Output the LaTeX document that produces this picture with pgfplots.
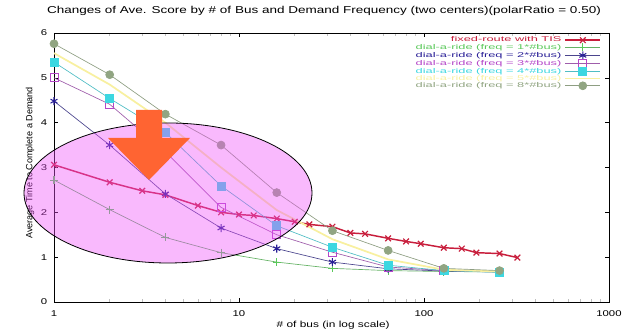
\documentclass[border=0pt]{standalone}
\usepackage{pgfplots}
\pgfplotsset{compat=1.18}
\usepackage{fontspec}
\setmainfont{Liberation Sans}
\newfontfamily\widef[FakeStretch=1.35]{Liberation Sans}
\newfontfamily\titlef[FakeStretch=1.35]{Liberation Sans}
\newfontfamily\legf[FakeStretch=1.85]{Liberation Sans}
\definecolor{cred}{RGB}{200,30,60}
\definecolor{cgreen}{RGB}{90,200,90}
\definecolor{cnavy}{RGB}{40,30,150}
\definecolor{cpurple}{RGB}{180,70,200}
\definecolor{ccyan}{RGB}{60,215,225}
\definecolor{cyellow}{RGB}{248,240,160}
\definecolor{cgray}{RGB}{145,165,130}
\definecolor{carrow}{RGB}{255,100,50}
\definecolor{cpink}{RGB}{240,80,250}
\begin{document}
\begin{tikzpicture}
\begin{axis}[
  name=ax,
  scale only axis,
  width=416.25pt, height=201.75pt,
  xmode=log, log basis x=10,
  xmin=1, xmax=1000, ymin=0, ymax=6,
  xtick={1,10,100,1000}, xticklabels={1,10,100,1000},
  minor xtick={2,3,4,5,6,7,8,9,20,30,40,50,60,70,80,90,200,300,400,500,600,700,800,900},
  ytick={0,1,2,3,4,5,6},
  /pgf/number format/assume math mode=true,
  axis line style={black, line width=0.6pt},
  major tick length=3pt, minor tick length=2pt,
  tick style={black, line width=0.4pt},
  minor tick style={gray!50, line width=0.4pt},
  ticklabel style={font=\widef\fontsize{6.3}{7}\selectfont},
  yticklabel style={inner sep=0pt, anchor=east, xshift=-5pt},
  xticklabel style={inner sep=0pt, anchor=north, yshift=-6.5pt},
  xlabel={\# of bus (in log scale)},
  xlabel style={font=\widef\fontsize{6.6}{7.5}\selectfont, at={(axis description cs:0.503,-0.0855)}, anchor=center, inner sep=0pt},
  ylabel={Average Time to Complete a Demand},
  ylabel style={font=\fontsize{6.8}{7.5}\selectfont, at={(axis description cs:-0.043,0.517)}, anchor=center, inner sep=0pt},
  legend style={at={(rel axis cs:1,1)}, anchor=north east, xshift=-6pt, yshift=-3pt,
    draw=none, fill=none, inner sep=0pt, outer sep=0pt,
    font=\legf\fontsize{5.2}{5.2}\selectfont,
    cells={anchor=east}, row sep=0pt, column sep=2.25pt,
    nodes={inner sep=0.1pt, text height=3.6pt, text depth=1.0pt}},
  legend plot pos=right,
  legend image code/.code={\draw[mark repeat=2,mark phase=2] plot coordinates {(0pt,0pt)(13pt,0pt)(26pt,0pt)};},
]
\addplot[cred, line width=1.1pt, mark=x, mark size=3pt, mark options={line width=0.9pt}] coordinates {
(1,3.06)(2,2.67)(3,2.48)(4,2.39)(6,2.15)(8,2.00)(10,1.95)(12,1.93)(16,1.86)(20,1.79)(24,1.73)(32,1.68)(40,1.54)(48,1.52)(64,1.42)(80,1.35)(96,1.30)(128,1.21)(160,1.19)(192,1.10)(256,1.08)(320,0.99)};
\addlegendentry{\textcolor{cred}{fixed-route with TIS}}
\addplot[cgreen!70!gray, line width=0.5pt, mark=+, mark size=3pt, mark options={cgreen, line width=0.8pt}] coordinates {
(1,2.72)(2,2.06)(4,1.44)(8,1.10)(16,0.89)(32,0.75)(64,0.70)(128,0.68)(256,0.67)};
\addlegendentry{\textcolor{cgreen}{dial-a-ride (freq = 1*\#bus)}}
\addplot[cnavy!60!gray, line width=0.5pt, mark=asterisk, mark size=3pt, mark options={cnavy, line width=0.8pt}] coordinates {
(1,4.48)(2,3.50)(4,2.41)(8,1.65)(16,1.19)(32,0.89)(64,0.74)(128,0.69)(256,0.67)};
\addlegendentry{\textcolor{cnavy}{dial-a-ride (freq = 2*\#bus)}}
\addplot[cpurple!60!gray, line width=0.5pt, mark=square, mark size=3pt, mark options={cpurple, line width=0.6pt, fill=white}] coordinates {
(1,5.00)(2,4.41)(4,3.35)(8,2.11)(16,1.50)(32,1.11)(64,0.78)(128,0.70)(256,0.67)};
\addlegendentry{\textcolor{cpurple}{dial-a-ride (freq = 3*\#bus)}}
\addplot[ccyan!70!gray, line width=0.5pt, mark=square*, mark size=3pt, mark options={ccyan, fill=ccyan}] coordinates {
(1,5.35)(2,4.54)(4,3.78)(8,2.59)(16,1.70)(32,1.22)(64,0.82)(128,0.70)(256,0.66)};
\addlegendentry{\textcolor{ccyan}{dial-a-ride (freq = 4*\#bus)}}
\addplot[cyellow, line width=1.3pt] coordinates {
(1,5.55)(2,4.85)(4,4.00)(8,3.00)(16,2.05)(32,1.40)(64,0.95)(128,0.72)(256,0.68)};
\addlegendentry{\textcolor{cyellow}{dial-a-ride (freq = 5*\#bus)}}
\addplot[cgray!80!gray, line width=0.5pt, mark=*, mark size=3pt, mark options={cgray, fill=cgray}] coordinates {
(1,5.76)(2,5.07)(4,4.19)(8,3.50)(16,2.44)(32,1.59)(64,1.15)(128,0.75)(256,0.70)};
\addlegendentry{\textcolor{cgray}{dial-a-ride (freq = 8*\#bus)}}
\end{axis}
\begin{scope}[shift={(ax.south west)}, x=0.75pt, y=0.75pt]
\node[font=\titlef\fontsize{7.5}{8}\selectfont, inner sep=0pt, anchor=center] at (270,291) {Changes of Ave. Score by \# of Bus and Demand Frequency (two centers)(polarRatio = 0.50)};
\fill[cpink, fill opacity=0.4] (114,109) ellipse [x radius=144, y radius=70];
\draw[black, line width=0.6pt] (114,109) ellipse [x radius=144, y radius=70];
\fill[carrow] (82,192) -- (108,192) -- (108,164) -- (136,164) -- (95,122) -- (54,164) -- (82,164) -- cycle;
\end{scope}
\pgfresetboundingbox
\useasboundingbox ([shift={(-40.5pt,-23.25pt)}]ax.south west) rectangle ([shift={(9.75pt,24.75pt)}]ax.north east);
\end{tikzpicture}
\end{document}
